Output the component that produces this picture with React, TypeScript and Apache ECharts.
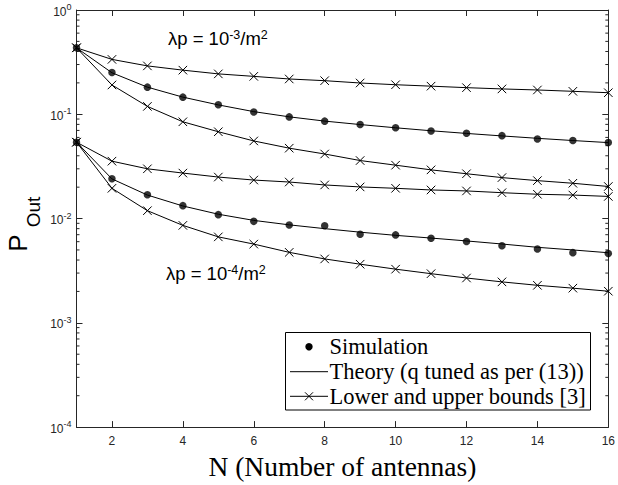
import React, { useEffect, useRef } from "react";
import * as echarts from "echarts";

// N (number of antennas)
const antennas = [1, 2, 3, 4, 5, 6, 7, 8, 9, 10, 11, 12, 13, 14, 15, 16];

// λp = 1e-3 /m^2
const hiUpperBound = [0.434, 0.336, 0.291, 0.265, 0.244, 0.231, 0.218, 0.21, 0.1995, 0.192, 0.186, 0.18, 0.175, 0.171, 0.166, 0.161];
const hiSimulation = [0.434, 0.252, 0.182, 0.146, 0.1235, 0.105, 0.0944, 0.0859, 0.0799, 0.0743, 0.069, 0.0657, 0.0624, 0.058, 0.056, 0.0536];
const hiTheory = [0.434, 0.25, 0.182, 0.146, 0.123, 0.106, 0.0945, 0.086, 0.0797, 0.0742, 0.0695, 0.0655, 0.062, 0.0588, 0.056, 0.0535];
const hiLowerBound = [0.434, 0.191, 0.119, 0.0847, 0.068, 0.0555, 0.0473, 0.0416, 0.036, 0.0325, 0.0293, 0.0269, 0.0247, 0.0231, 0.0218, 0.0203];

// λp = 1e-4 /m^2
const loUpperBound = [0.054, 0.0355, 0.03, 0.0273, 0.025, 0.0234, 0.0224, 0.021, 0.0201, 0.0195, 0.0188, 0.0184, 0.0177, 0.0171, 0.0168, 0.0163];
const loSimulation = [0.054, 0.0241, 0.0169, 0.0133, 0.0109, 0.0094, 0.00867, 0.00853, 0.00708, 0.00697, 0.00648, 0.00602, 0.00548, 0.0051, 0.00471, 0.00463];
const loTheory = [0.054, 0.024, 0.0168, 0.0132, 0.011, 0.0096, 0.0087, 0.008, 0.0074, 0.0069, 0.0065, 0.0061, 0.0057, 0.0053, 0.005, 0.0047];
const loLowerBound = [0.054, 0.0195, 0.0119, 0.0086, 0.00667, 0.00569, 0.00474, 0.0041, 0.00365, 0.00327, 0.00296, 0.00269, 0.00247, 0.00229, 0.00215, 0.00201];

const xTickValues = [2, 4, 6, 8, 10, 12, 14, 16];
const minorMultipliers = [2, 3, 4, 5, 6, 7, 8, 9];
const minorDecades = [-4, -3, -2, -1];

const SIM = "Simulation";
const THEORY = "Theory (q tuned as per (13))";
const BOUND = "Lower and upper bounds [3]";

const X_SYMBOL = "path://M0,0L10,10M0,10L10,0";
const AXIS = "#262626";
const SANS = "sans-serif";
const SERIF = "serif";

export default function App() {
  const ref = useRef<HTMLDivElement>(null);

  useEffect(() => {
    document.body.style.margin = "0";
    const chart = echarts.init(ref.current!, null, { renderer: "svg" });

    const pairs = (ys: number[]) => antennas.map((n, i) => [n, ys[i]]);
    const boundSeries = (ys: number[]) => ({
      type: "line",
      name: BOUND,
      data: pairs(ys),
      symbol: X_SYMBOL,
      symbolSize: 8.5,
      showAllSymbol: true,
      clip: false,
      lineStyle: { color: "#000", width: 1 },
      itemStyle: { color: "#000", borderColor: "#000", borderWidth: 1 },
      z: 3,
    });
    const theorySeries = (ys: number[]) => ({
      type: "line",
      name: THEORY,
      data: pairs(ys),
      symbol: "none",
      clip: false,
      lineStyle: { color: "#000", width: 1 },
      itemStyle: { color: "#000" },
      z: 3,
    });
    const simSeries = (ys: number[]) => ({
      type: "scatter",
      name: SIM,
      data: pairs(ys),
      symbol: "circle",
      symbolSize: 7.5,
      clip: false,
      itemStyle: { color: "#000" },
      z: 4,
    });

    const minorTicks: number[][] = [];
    minorDecades.forEach((d) =>
      minorMultipliers.forEach((m) => minorTicks.push([1, m * Math.pow(10, d)]))
    );

    const supRich = {
      b: { fontSize: 12, fontFamily: SANS, color: AXIS, lineHeight: 15, verticalAlign: "bottom" },
      s: { fontSize: 9, fontFamily: SANS, color: AXIS, lineHeight: 9, verticalAlign: "top" },
    };
    const annRich = {
      m: { fontSize: 18.5, fontFamily: SANS, color: "#000", lineHeight: 20, verticalAlign: "bottom" },
      s: { fontSize: 12.5, fontFamily: SANS, color: "#000", lineHeight: 11, verticalAlign: "top" },
    };

    // legend drawn as graphic (box, icons, texts)
    const lgLeft = 285.5;
    const lgTop = 332.5;
    const rowY = [346.7, 371.7, 396.3];
    const iconL = 290;
    const iconR = 328;
    const iconC = (iconL + iconR) / 2;
    const textX = 329.5;
    const black = { stroke: "#000", lineWidth: 1 };
    const legendTextStyle = (t: string, y: number) => ({
      type: "text",
      x: textX,
      y,
      z: 101,
      style: { text: t, fontFamily: "Liberation Serif", fontSize: 22.5, fill: "#000", align: "left", verticalAlign: "middle" },
    });

    const legendGraphic = [
      { type: "rect", z: 100, shape: { x: lgLeft, y: lgTop, width: 305, height: 77.5 }, style: { fill: "#fff", stroke: "#000", lineWidth: 1 } },
      { type: "circle", z: 101, shape: { cx: iconC, cy: rowY[0], r: 3.7 }, style: { fill: "#000" } },
      legendTextStyle(SIM, rowY[0]),
      { type: "line", z: 101, shape: { x1: iconL, y1: rowY[1], x2: iconR, y2: rowY[1] }, style: black },
      legendTextStyle(THEORY, rowY[1]),
      { type: "line", z: 101, shape: { x1: iconL, y1: rowY[2], x2: iconR, y2: rowY[2] }, style: black },
      { type: "line", z: 101, shape: { x1: iconC - 4, y1: rowY[2] - 4, x2: iconC + 4, y2: rowY[2] + 4 }, style: black },
      { type: "line", z: 101, shape: { x1: iconC - 4, y1: rowY[2] + 4, x2: iconC + 4, y2: rowY[2] - 4 }, style: black },
      legendTextStyle(BOUND, rowY[2]),
    ];

    const option: any = {
      animation: false,
      backgroundColor: "#fff",
      grid: { left: 76.5, right: 7, top: 10, bottom: 52.5, containLabel: false },
      xAxis: [
        {
          type: "value",
          min: 1,
          max: 16,
          position: "bottom",
          axisLine: { show: true, lineStyle: { color: AXIS, width: 1 } },
          axisTick: { show: true, inside: true, length: 6, customValues: xTickValues, lineStyle: { color: AXIS } },
          axisLabel: { show: true, margin: 8, customValues: xTickValues, fontFamily: SANS, fontSize: 12, color: AXIS },
          splitLine: { show: false },
          name: "N (Number of antennas)",
          nameLocation: "middle",
          nameGap: 22,
          nameTextStyle: { fontFamily: SERIF, fontSize: 27.5, color: "#000" },
        },
        {
          type: "value",
          min: 1,
          max: 16,
          position: "top",
          axisLine: { show: true, lineStyle: { color: AXIS, width: 1 } },
          axisTick: { show: true, inside: true, length: 6, customValues: xTickValues, lineStyle: { color: AXIS } },
          axisLabel: { show: false },
          splitLine: { show: false },
        },
      ],
      yAxis: [
        {
          type: "log",
          logBase: 10,
          min: 1e-4,
          max: 1,
          position: "left",
          axisLine: { show: true, lineStyle: { color: AXIS, width: 1 } },
          axisTick: { show: true, inside: true, length: 6, lineStyle: { color: AXIS } },
          axisLabel: {
            show: true,
            margin: 5,
            formatter: (v: number) => `{b|10}{s|${Math.round(Math.log10(v))}}`,
            rich: supRich,
          },
          splitLine: { show: false },
        },
        {
          type: "log",
          logBase: 10,
          min: 1e-4,
          max: 1,
          position: "right",
          axisLine: { show: true, lineStyle: { color: AXIS, width: 1 } },
          axisTick: { show: true, inside: true, length: 6, lineStyle: { color: AXIS } },
          axisLabel: { show: false },
          splitLine: { show: false },
        },
      ],
      graphic: [
        {
          type: "text",
          x: 18,
          y: 243,
          rotation: Math.PI / 2,
          style: { text: "P", fontFamily: "Liberation Sans", fontSize: 26, fill: "#000", align: "center", verticalAlign: "middle" },
        },
        {
          type: "text",
          x: 33,
          y: 212,
          rotation: Math.PI / 2,
          style: { text: "Out", fontFamily: "Liberation Sans", fontSize: 19, fill: "#000", align: "center", verticalAlign: "middle" },
        },
        {
          type: "text",
          x: 168,
          y: 38,
          style: { text: "{m|λp = 10}{s|-3}{m|/m}{s|2}", rich: annRich, align: "left", verticalAlign: "middle" },
        },
        {
          type: "text",
          x: 166,
          y: 273,
          style: { text: "{m|λp = 10}{s|-4}{m|/m}{s|2}", rich: annRich, align: "left", verticalAlign: "middle" },
        },
        ...legendGraphic,
      ],
      series: [
        {
          type: "custom",
          name: "minorTicks",
          silent: true,
          clip: false,
          data: minorTicks,
          renderItem: (_params: any, api: any) => {
            const v = api.value(1);
            const l = api.coord([1, v]);
            const r = api.coord([16, v]);
            const st = { stroke: AXIS, lineWidth: 1 };
            return {
              type: "group",
              children: [
                { type: "line", shape: { x1: l[0], y1: l[1], x2: l[0] + 3, y2: l[1] }, style: st },
                { type: "line", shape: { x1: r[0] - 3, y1: r[1], x2: r[0], y2: r[1] }, style: st },
              ],
            };
          },
          z: 1,
        },
        boundSeries(hiUpperBound),
        theorySeries(hiTheory),
        simSeries(hiSimulation),
        boundSeries(hiLowerBound),
        boundSeries(loUpperBound),
        theorySeries(loTheory),
        simSeries(loSimulation),
        boundSeries(loLowerBound),
      ],
    };

    chart.setOption(option);
    return () => chart.dispose();
  }, []);

  return <div ref={ref} style={{ width: 618, height: 485 }} />;
}
